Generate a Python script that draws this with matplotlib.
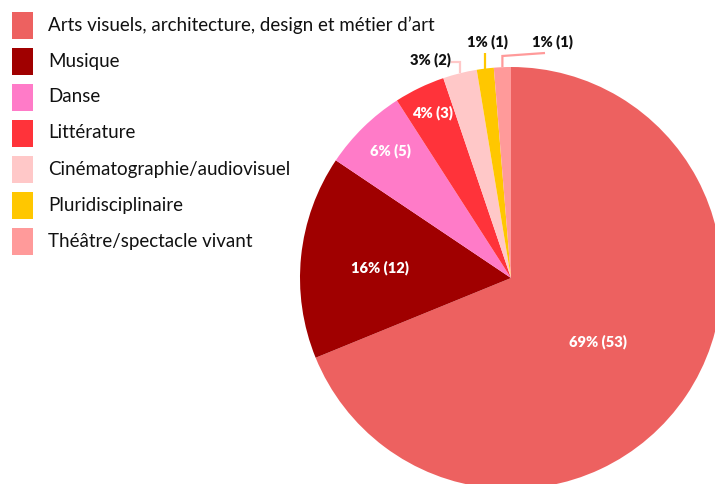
import matplotlib
matplotlib.use("Agg")
import matplotlib.pyplot as plt
import numpy as np
from matplotlib.patches import Rectangle

categories = [
    "Arts visuels, architecture, design et métier d’art",
    "Musique",
    "Danse",
    "Littérature",
    "Cinématographie/audiovisuel",
    "Pluridisciplinaire",
    "Théâtre/spectacle vivant",
]
counts = [53, 12, 5, 3, 2, 1, 1]
colors = ["#ED6160", "#A00000", "#FF7BC8", "#FF333A", "#FFC8C8", "#FFC700", "#FF9A9A"]

W, H = 715, 484
fig = plt.figure(figsize=(W / 100, H / 100), dpi=100)
ax = fig.add_axes([0, 0, 1, 1])

# work in pixel space, y measured from the bottom
cx, cy, r = 511, H - 278, 211
ax.pie(counts, colors=colors, startangle=90, counterclock=False,
       center=(cx, cy), radius=r, wedgeprops=dict(linewidth=0))
ax.set_xlim(0, W)
ax.set_ylim(0, H)
ax.set_aspect("equal")
ax.axis("off")

total = sum(counts)
labels = [f"{round(c / total * 100)}% ({c})" for c in counts]
lab_kw = dict(fontsize=10.5, fontweight="heavy", family="Lato", va="center")

# labels inside the larger slices
inside = {0: (598, 342), 1: (380, 268), 2: (390, 151), 3: (432, 113)}
for i, (px, py) in inside.items():
    ax.text(px, H - py, labels[i], color="white", ha="center", **lab_kw)

# leader lines for the thin slices near the top
cum = np.cumsum([0] + counts)
def edge_point(i):
    ang = np.deg2rad((cum[i] + counts[i] / 2) / total * 360)
    return cx + r * np.sin(ang), cy + r * np.cos(ang)

line_kw = dict(lw=1.6, solid_capstyle="butt", solid_joinstyle="miter")

x0, y0 = edge_point(4)
ax.plot([x0, x0, x0 - 9], [y0, H - 62, H - 62], color=colors[4], **line_kw)
ax.text(451, H - 60, labels[4], ha="right", color="#111111", **lab_kw)

x0, y0 = edge_point(5)
ax.plot([x0, x0], [y0, H - 53], color=colors[5], **line_kw)
ax.text(487, H - 42, labels[5], ha="center", color="#111111", **lab_kw)

x0, y0 = edge_point(6)
ax.plot([x0, x0, 545], [y0, H - 56, H - 53], color=colors[6], **line_kw)
ax.text(552, H - 42, labels[6], ha="center", color="#111111", **lab_kw)

# legend: colour squares with category names
for k, (name, c) in enumerate(zip(categories, colors)):
    top = 12 + 36 * k
    ax.add_patch(Rectangle((12, H - top - 27), 21, 27, facecolor=c, edgecolor="none"))
    ax.text(48, H - top - 13, name, fontsize=13.5, family="Lato", color="#111111",
            ha="left", va="center")

fig.savefig("out.png", dpi=100)
